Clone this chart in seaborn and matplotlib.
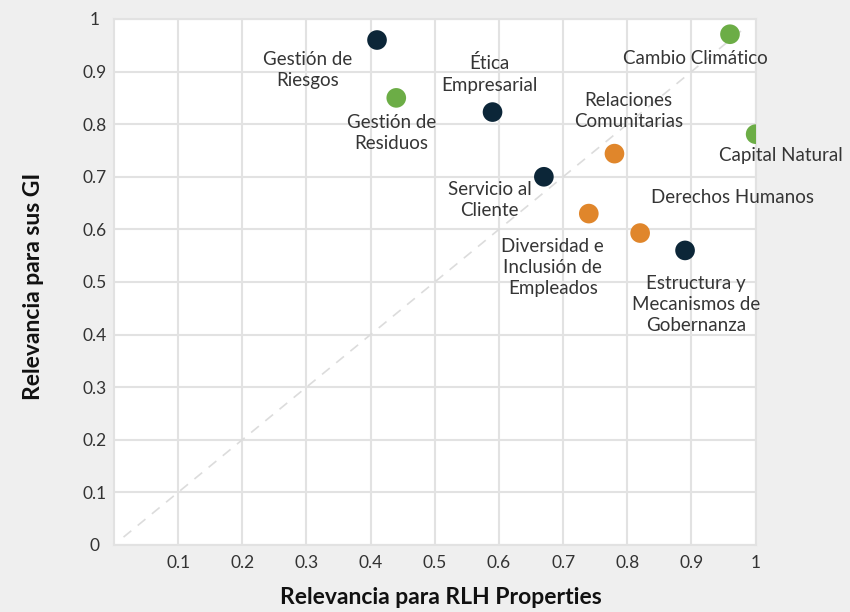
import numpy as np
import pandas as pd
import matplotlib
matplotlib.use("Agg")
import matplotlib.pyplot as plt
import seaborn as sns

sns.set_theme(style="whitegrid")
plt.rcParams['font.family'] = ['Lato', 'DejaVu Sans']

# data
temas = ['Gestión de\nRiesgos', 'Gestión de\nResiduos', 'Ética\nEmpresarial',
         'Servicio al\nCliente', 'Relaciones\nComunitarias',
         'Diversidad e\nInclusión de\nEmpleados', 'Derechos Humanos',
         'Estructura y\nMecanismos de\nGobernanza', 'Cambio Climático',
         'Capital Natural']
rlh = [0.41, 0.44, 0.59, 0.67, 0.78, 0.74, 0.82, 0.89, 0.96, 1.00]
gi = [0.96, 0.85, 0.823, 0.70, 0.744, 0.63, 0.593, 0.56, 0.971, 0.781]
grupo = ['Gobernanza', 'Ambiental', 'Gobernanza', 'Gobernanza', 'Social',
         'Social', 'Social', 'Gobernanza', 'Ambiental', 'Ambiental']
ticks = [0.1, 0.2, 0.3, 0.4, 0.5, 0.6, 0.7, 0.8, 0.9, 1]

# label offsets in pixels (dx right, dy up) relative to each point
offsets = [(-69, -30), (-5, -35), (-3, 38), (-54, -23), (14, 43),
           (-36, -54), (92, 36), (11, -54), (-35, -24), (25, -21)]

colores = {'Gobernanza': '#0c2638', 'Ambiental': '#6cad46', 'Social': '#e0862b'}

df = pd.DataFrame({'tema': temas, 'rlh': rlh, 'gi': gi, 'grupo': grupo})

fig = plt.figure(figsize=(8.5, 6.12), dpi=100, facecolor='#efefef')
ax = fig.add_axes([0.134, 0.1095, 0.755, 0.8595])
ax.set_facecolor('white')

ax.plot([0.015, 0.985], [0.015, 0.985], color='#dcdcdc', linestyle=(0, (6, 5)),
        linewidth=1.2, zorder=1)

sns.scatterplot(data=df, x='rlh', y='gi', hue='grupo', palette=colores, s=200,
                edgecolor='none', legend=False, ax=ax, zorder=3)

for tema, x, y, (dx, dy) in zip(temas, rlh, gi, offsets):
    ax.annotate(tema, (x, y), xytext=(dx, dy), textcoords='offset pixels',
                ha='center', va='center', fontsize=13.5, color='#353535',
                linespacing=1.3, zorder=4)

ax.set_xlim(0, 1)
ax.set_ylim(0, 1)
ax.set_xticks(ticks)
ax.set_xticklabels([str(t) for t in ticks])
ax.set_yticks([0] + ticks)
ax.set_yticklabels(['0'] + [str(t) for t in ticks])
ax.tick_params(axis='both', length=0, labelsize=12.5, labelcolor='#333333')
ax.tick_params(axis='x', pad=7)
ax.tick_params(axis='y', pad=13.7)
for lab in ax.get_yticklabels():
    lab.set_ha('center')
ax.grid(True, color='#e2e2e2', linewidth=1.5)
for s in ax.spines.values():
    s.set_color('#e2e2e2')
    s.set_linewidth(1.5)

ax.set_xlabel('Relevancia para RLH Properties', fontsize=16.5, fontweight='bold',
              color='#111111')
ax.set_ylabel('Relevancia para sus GI', fontsize=16.5, fontweight='bold',
              color='#111111')
ax.xaxis.set_label_coords(0.509, -0.099)
ax.xaxis.label.set_va('center')
ax.yaxis.set_label_coords(-0.125, 0.492)
ax.yaxis.label.set_va('center')

fig.savefig('out.png', dpi=100, facecolor=fig.get_facecolor())
